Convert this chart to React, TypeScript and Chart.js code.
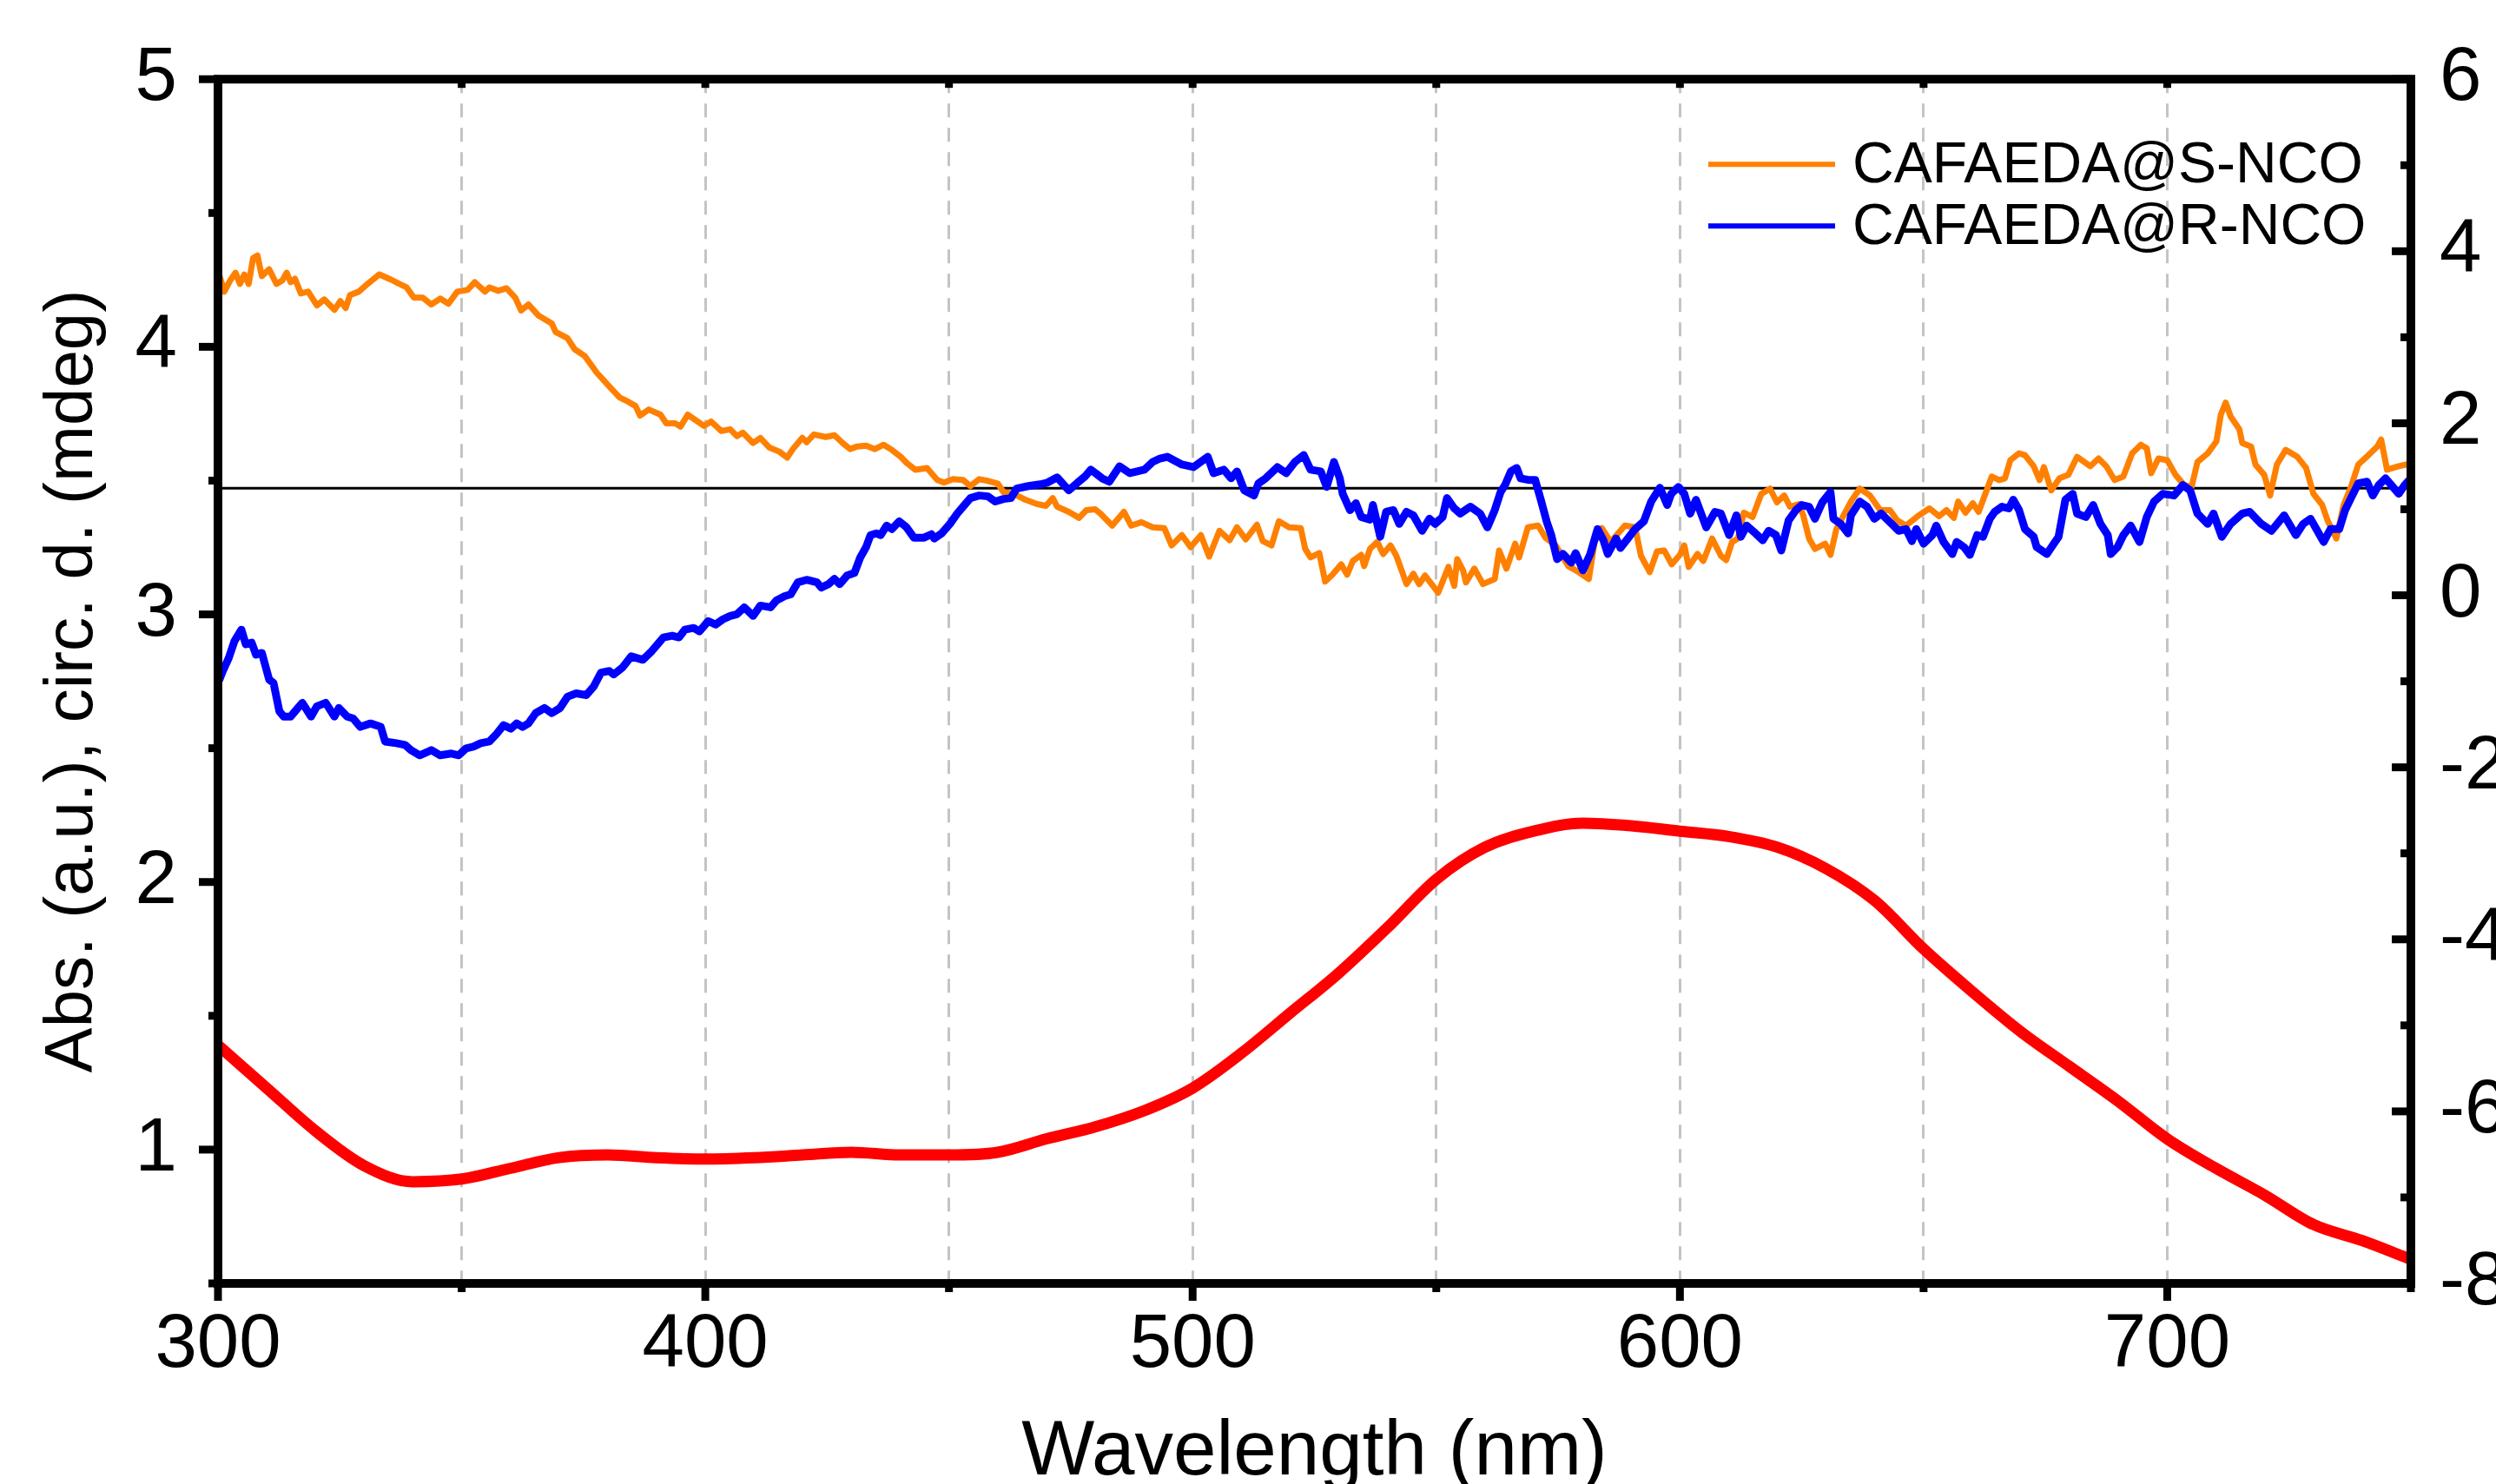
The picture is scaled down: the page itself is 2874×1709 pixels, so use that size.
import React, { useEffect, useRef } from 'react';
import { Chart, registerables } from 'chart.js';

Chart.register(...registerables);

const FONT = '"Liberation Sans", Arimo, Arial, Helvetica, sans-serif';
const ORANGE = '#FF8000';
const BLUE = '#0000FF';
const RED = '#FF0000';

// x axis range (nm) and y ranges
const X_MIN = 300;
const X_MAX = 750;
const Y_MIN = 0.5;
const Y_MAX = 5;
const Y2_MIN = -8;
const Y2_MAX = 6;

const xTitle = 'Wavelength (nm)';
const yTitle = 'Abs. (a.u.), circ. d. (mdeg)';
const legendLabels = ['CAFAEDA@S-NCO', 'CAFAEDA@R-NCO'];

// Absorbance (left axis)
const absNm = [300, 310, 320, 330, 340, 350, 360, 370, 380, 390, 400, 410, 420, 430, 440, 450, 460, 470, 480, 490, 500, 510, 520, 530, 540, 550, 560, 570, 580, 590, 600, 610, 620, 630, 640, 650, 660, 670, 680, 690, 700, 710, 720, 730, 740, 750];
const absVal = [1.39, 1.23, 1.07, 0.94, 0.88, 0.89, 0.93, 0.97, 0.98, 0.97, 0.965, 0.97, 0.98, 0.99, 0.98, 0.98, 0.99, 1.04, 1.085, 1.145, 1.23, 1.36, 1.51, 1.66, 1.83, 2.01, 2.13, 2.19, 2.22, 2.21, 2.19, 2.17, 2.13, 2.05, 1.93, 1.75, 1.59, 1.44, 1.31, 1.18, 1.04, 0.93, 0.83, 0.72, 0.66, 0.59];

// CD of CAFAEDA@S-NCO (right axis)
const sNcoNm = [300.4, 301.3, 302.5, 303.6, 304.5, 305.4, 306.3, 307.2, 308.1, 309.0, 310.5, 312.0, 313.2, 314.1, 314.9, 315.8, 317.0, 318.5, 320.3, 321.8, 323.9, 325.1, 326.2, 327.1, 328.9, 330.7, 333.1, 335.5, 337.2, 338.7, 340.2, 342.0, 343.8, 345.6, 347.3, 349.1, 351.2, 352.7, 354.8, 355.7, 357.5, 359.2, 361.0, 362.2, 363.7, 365.8, 368.5, 369.3, 371.7, 373.2, 375.3, 377.7, 380.6, 382.4, 384.2, 385.7, 386.6, 388.4, 390.8, 392.0, 393.8, 394.9, 396.4, 397.9, 399.7, 401.2, 403.3, 405.1, 406.5, 407.7, 409.8, 411.3, 413.1, 415.2, 416.8, 418.1, 419.9, 420.8, 422.3, 424.7, 426.5, 428.2, 429.7, 431.2, 433.0, 434.8, 436.6, 438.3, 440.1, 441.3, 443.1, 445.5, 447.6, 449.0, 450.8, 452.9, 454.4, 456.2, 458.0, 460.0, 461.2, 463.3, 465.7, 468.1, 469.9, 471.3, 472.2, 474.6, 476.7, 478.2, 480.0, 481.1, 483.5, 485.9, 487.4, 489.5, 491.8, 494.2, 495.7, 497.8, 499.6, 501.7, 503.4, 505.5, 507.6, 509.1, 510.9, 513.2, 514.4, 516.2, 517.7, 519.8, 522.2, 523.1, 524.2, 526.0, 527.2, 528.7, 530.5, 531.7, 532.9, 534.6, 535.2, 536.4, 537.9, 539.1, 540.6, 541.8, 543.9, 545.3, 546.5, 547.7, 550.4, 552.5, 553.7, 554.3, 555.5, 556.1, 557.8, 559.6, 562.0, 562.9, 564.4, 566.2, 567.0, 568.8, 570.9, 572.4, 574.5, 577.1, 579.2, 581.3, 582.5, 584.0, 585.8, 588.7, 590.8, 592.0, 593.8, 595.3, 596.8, 598.3, 600.0, 600.9, 601.8, 603.6, 604.8, 606.6, 608.4, 609.5, 610.7, 611.9, 613.1, 614.9, 616.7, 618.5, 619.9, 621.4, 622.6, 624.4, 625.3, 626.5, 627.7, 629.8, 630.9, 632.1, 633.6, 635.1, 636.9, 639.0, 641.1, 643.1, 644.6, 646.4, 648.8, 651.2, 653.2, 654.7, 656.2, 657.1, 658.6, 660.1, 661.3, 662.8, 664.0, 665.5, 666.7, 667.8, 669.6, 670.8, 672.6, 673.8, 674.7, 676.2, 677.9, 679.7, 681.5, 684.2, 685.9, 687.5, 689.2, 691.0, 692.8, 694.6, 695.8, 696.7, 698.2, 700.0, 701.7, 703.5, 705.0, 706.2, 708.3, 710.1, 711.0, 712.0, 713.0, 714.8, 715.4, 717.2, 718.1, 719.9, 721.1, 722.5, 724.3, 726.7, 728.5, 730.0, 731.8, 732.9, 734.7, 736.2, 737.7, 739.2, 741.3, 743.1, 743.9, 745.1, 747.5, 749.0, 750.0];
const sNcoCd = [3.70, 3.53, 3.66, 3.75, 3.62, 3.73, 3.62, 3.92, 3.95, 3.71, 3.79, 3.62, 3.66, 3.75, 3.64, 3.68, 3.51, 3.53, 3.37, 3.44, 3.32, 3.42, 3.34, 3.49, 3.53, 3.62, 3.73, 3.67, 3.62, 3.58, 3.46, 3.46, 3.38, 3.45, 3.39, 3.53, 3.55, 3.64, 3.53, 3.58, 3.54, 3.57, 3.46, 3.31, 3.38, 3.25, 3.16, 3.06, 2.99, 2.86, 2.78, 2.59, 2.41, 2.30, 2.25, 2.20, 2.09, 2.16, 2.10, 2.00, 2.00, 1.96, 2.10, 2.04, 1.97, 2.02, 1.91, 1.93, 1.85, 1.89, 1.77, 1.83, 1.72, 1.67, 1.60, 1.71, 1.83, 1.78, 1.87, 1.84, 1.86, 1.77, 1.70, 1.73, 1.74, 1.70, 1.75, 1.69, 1.61, 1.54, 1.46, 1.48, 1.34, 1.31, 1.35, 1.34, 1.27, 1.35, 1.33, 1.30, 1.20, 1.18, 1.11, 1.06, 1.04, 1.13, 1.03, 0.97, 0.90, 0.99, 1.00, 0.95, 0.81, 0.97, 0.81, 0.85, 0.79, 0.78, 0.58, 0.70, 0.56, 0.70, 0.45, 0.75, 0.64, 0.79, 0.65, 0.82, 0.63, 0.58, 0.86, 0.79, 0.78, 0.54, 0.44, 0.49, 0.16, 0.24, 0.36, 0.24, 0.40, 0.47, 0.34, 0.54, 0.62, 0.48, 0.58, 0.46, 0.13, 0.25, 0.13, 0.23, 0.03, 0.33, 0.11, 0.42, 0.29, 0.15, 0.31, 0.13, 0.19, 0.52, 0.31, 0.60, 0.44, 0.79, 0.81, 0.67, 0.58, 0.34, 0.27, 0.19, 0.62, 0.78, 0.62, 0.81, 0.79, 0.46, 0.27, 0.51, 0.52, 0.36, 0.47, 0.58, 0.33, 0.48, 0.40, 0.66, 0.46, 0.41, 0.62, 0.66, 0.96, 0.91, 1.18, 1.24, 1.08, 1.16, 1.03, 1.06, 0.93, 0.66, 0.54, 0.60, 0.47, 0.77, 0.93, 1.09, 1.24, 1.16, 0.99, 0.99, 0.87, 0.81, 0.92, 1.01, 0.92, 0.99, 0.90, 1.09, 0.96, 1.07, 0.97, 1.20, 1.38, 1.34, 1.36, 1.57, 1.65, 1.63, 1.50, 1.34, 1.49, 1.22, 1.36, 1.40, 1.61, 1.50, 1.59, 1.50, 1.34, 1.38, 1.65, 1.75, 1.71, 1.42, 1.59, 1.57, 1.40, 1.28, 1.26, 1.55, 1.65, 1.79, 2.10, 2.24, 2.08, 1.93, 1.77, 1.73, 1.52, 1.40, 1.16, 1.52, 1.69, 1.61, 1.48, 1.18, 1.05, 0.87, 0.66, 1.05, 1.26, 1.52, 1.63, 1.73, 1.81, 1.46, 1.50, 1.52, 1.50];

// CD of CAFAEDA@R-NCO (right axis)
const rNcoNm = [300.3, 301.0, 302.2, 303.4, 304.8, 305.7, 306.9, 307.8, 309.0, 310.5, 311.4, 312.6, 313.5, 314.9, 315.8, 317.3, 319.1, 320.3, 322.1, 323.9, 324.8, 326.5, 327.7, 329.2, 331.3, 333.4, 334.3, 336.6, 338.4, 339.6, 341.4, 343.8, 345.6, 347.9, 349.4, 350.9, 352.4, 353.9, 355.7, 357.2, 358.6, 360.1, 361.3, 362.5, 363.7, 365.2, 367.0, 368.5, 370.2, 371.7, 373.5, 375.6, 377.1, 378.6, 380.3, 381.2, 383.0, 384.8, 387.2, 389.0, 390.2, 391.4, 393.2, 394.6, 395.8, 397.6, 398.8, 400.6, 402.1, 403.6, 405.1, 406.5, 408.0, 409.8, 411.3, 413.4, 414.6, 416.3, 417.5, 419.0, 420.8, 422.9, 423.8, 425.3, 426.5, 427.6, 429.1, 430.6, 431.8, 433.0, 433.9, 435.1, 436.0, 437.2, 438.3, 439.8, 441.3, 442.8, 444.9, 446.4, 447.0, 448.5, 450.2, 451.7, 453.2, 454.4, 456.2, 458.0, 459.5, 461.2, 462.7, 463.9, 466.3, 468.7, 470.2, 472.2, 474.6, 476.4, 477.9, 479.1, 480.3, 481.4, 482.9, 485.0, 487.1, 490.1, 491.8, 493.3, 494.8, 497.8, 500.2, 503.1, 504.3, 506.4, 507.9, 509.1, 510.6, 512.6, 513.5, 515.0, 517.4, 519.2, 521.0, 522.8, 524.2, 526.3, 527.5, 529.0, 530.2, 530.8, 532.3, 533.5, 534.6, 536.4, 537.0, 538.5, 539.7, 541.2, 542.4, 543.9, 545.3, 547.1, 548.6, 549.8, 551.3, 552.2, 553.7, 554.9, 557.0, 559.0, 560.5, 562.0, 563.2, 564.1, 565.3, 566.5, 567.3, 569.1, 570.3, 571.5, 572.7, 573.6, 574.8, 576.0, 577.7, 578.6, 580.1, 581.6, 583.1, 584.3, 585.2, 586.9, 587.8, 589.3, 590.8, 592.6, 594.1, 595.9, 597.4, 598.2, 599.7, 600.9, 602.1, 603.3, 605.4, 607.2, 608.4, 610.1, 611.6, 612.5, 613.7, 615.5, 617.0, 618.2, 619.7, 620.8, 622.3, 623.8, 625.0, 626.5, 627.7, 629.2, 630.9, 631.5, 633.0, 634.5, 635.1, 636.9, 638.4, 639.9, 641.3, 643.1, 644.9, 646.4, 647.6, 648.5, 650.0, 651.8, 652.6, 654.1, 655.9, 656.8, 658.3, 659.5, 661.0, 662.2, 663.6, 664.6, 666.1, 667.5, 668.4, 669.6, 670.8, 672.6, 673.2, 675.3, 676.5, 677.7, 679.1, 680.6, 681.5, 683.3, 684.8, 686.3, 687.8, 688.4, 689.8, 691.0, 692.5, 694.3, 695.8, 697.3, 699.1, 701.4, 703.2, 704.7, 706.2, 708.3, 709.5, 711.2, 713.0, 715.4, 716.9, 719.3, 721.4, 724.0, 726.4, 727.9, 729.4, 730.6, 732.1, 733.5, 735.3, 736.5, 737.7, 739.2, 741.0, 742.2, 743.4, 744.8, 746.0, 747.5, 748.7, 750.0];
const rNcoCd = [-0.98, -0.88, -0.73, -0.53, -0.40, -0.57, -0.55, -0.69, -0.67, -0.98, -1.02, -1.35, -1.41, -1.41, -1.35, -1.25, -1.41, -1.29, -1.25, -1.41, -1.31, -1.41, -1.43, -1.53, -1.49, -1.53, -1.70, -1.72, -1.74, -1.80, -1.86, -1.80, -1.86, -1.84, -1.86, -1.78, -1.76, -1.72, -1.70, -1.61, -1.51, -1.55, -1.49, -1.53, -1.49, -1.37, -1.31, -1.37, -1.31, -1.18, -1.14, -1.16, -1.06, -0.90, -0.88, -0.92, -0.84, -0.71, -0.75, -0.65, -0.57, -0.49, -0.47, -0.49, -0.40, -0.38, -0.42, -0.30, -0.34, -0.28, -0.24, -0.22, -0.14, -0.24, -0.12, -0.14, -0.06, -0.01, 0.01, 0.15, 0.18, 0.15, 0.09, 0.13, 0.19, 0.13, 0.23, 0.26, 0.44, 0.56, 0.70, 0.72, 0.70, 0.81, 0.77, 0.86, 0.79, 0.67, 0.67, 0.71, 0.66, 0.72, 0.83, 0.95, 1.05, 1.13, 1.16, 1.15, 1.09, 1.12, 1.13, 1.24, 1.27, 1.29, 1.31, 1.37, 1.22, 1.31, 1.38, 1.46, 1.41, 1.36, 1.32, 1.50, 1.42, 1.46, 1.55, 1.59, 1.61, 1.52, 1.49, 1.61, 1.42, 1.46, 1.36, 1.44, 1.22, 1.16, 1.30, 1.36, 1.49, 1.42, 1.55, 1.63, 1.46, 1.44, 1.26, 1.55, 1.36, 1.18, 0.99, 1.07, 0.91, 0.88, 1.05, 0.68, 0.97, 0.99, 0.83, 0.97, 0.93, 0.75, 0.89, 0.83, 0.91, 1.13, 1.01, 0.95, 1.03, 0.95, 0.79, 0.99, 1.20, 1.28, 1.44, 1.48, 1.36, 1.34, 1.34, 1.10, 0.85, 0.70, 0.42, 0.48, 0.38, 0.49, 0.29, 0.48, 0.77, 0.64, 0.48, 0.66, 0.55, 0.66, 0.77, 0.86, 1.09, 1.25, 1.05, 1.18, 1.26, 1.18, 0.95, 1.11, 0.79, 0.97, 0.95, 0.70, 0.93, 0.68, 0.81, 0.72, 0.64, 0.75, 0.70, 0.52, 0.87, 0.99, 1.05, 1.03, 0.89, 1.08, 1.20, 0.89, 0.83, 0.72, 0.93, 1.09, 1.03, 0.89, 0.95, 0.85, 0.75, 0.77, 0.63, 0.77, 0.60, 0.70, 0.81, 0.62, 0.48, 0.62, 0.56, 0.47, 0.70, 0.68, 0.89, 0.97, 1.03, 1.01, 1.11, 0.99, 0.77, 0.68, 0.56, 0.48, 0.58, 0.68, 1.11, 1.18, 0.95, 0.91, 1.05, 0.83, 0.70, 0.48, 0.56, 0.70, 0.81, 0.62, 0.91, 1.09, 1.18, 1.16, 1.28, 1.22, 0.95, 0.83, 0.95, 0.68, 0.83, 0.95, 0.97, 0.83, 0.75, 0.93, 0.70, 0.83, 0.89, 0.77, 0.62, 0.77, 0.77, 0.99, 1.13, 1.30, 1.32, 1.16, 1.28, 1.36, 1.28, 1.18, 1.28, 1.36];

// horizontal reference line (right axis)
const baselineNm = [300, 750];
const baselineCd = [1.245, 1.245];

const toPts = (xs: number[], ys: number[]) => xs.map((x, i) => ({ x, y: ys[i] }));

const framePlugin = {
  id: 'frameTicks',
  afterDatasetsDraw(chart: any) {
    const { ctx, chartArea: a, scales } = chart;
    const line = (x1: number, y1: number, x2: number, y2: number) => {
      ctx.beginPath();
      ctx.moveTo(x1, y1);
      ctx.lineTo(x2, y2);
      ctx.stroke();
    };
    ctx.save();
    ctx.strokeStyle = '#000';
    ctx.lineCap = 'butt';
    ctx.lineWidth = 9;
    for (let v = X_MIN; v <= X_MAX; v += 50) {
      const px = scales.x.getPixelForValue(v);
      const major = v % 100 === 0;
      line(px, a.bottom, px, a.bottom + (major ? 20 : 10));
      line(px, a.top, px, a.top + 10);
    }
    for (let v = Y_MIN; v <= Y_MAX + 1e-9; v += 0.5) {
      const py = scales.y.getPixelForValue(v);
      const major = Math.abs(v - Math.round(v)) < 1e-6;
      line(a.left, py, a.left - (major ? 22 : 11), py);
    }
    for (let v = Y2_MIN; v <= Y2_MAX; v += 1) {
      const py = scales.y2.getPixelForValue(v);
      const major = v % 2 === 0;
      line(a.right, py, a.right - (major ? 22 : 12), py);
    }
    ctx.lineWidth = 10;
    ctx.lineJoin = 'miter';
    ctx.strokeRect(a.left, a.top, a.right - a.left, a.bottom - a.top);
    ctx.restore();
  },
};

const legendPlugin = {
  id: 'insideLegend',
  afterDraw(chart: any) {
    const { ctx, chartArea: a } = chart;
    const items = [
      { label: legendLabels[0], color: ORANGE },
      { label: legendLabels[1], color: BLUE },
    ];
    ctx.save();
    ctx.font = `66px ${FONT}`;
    ctx.textBaseline = 'middle';
    ctx.textAlign = 'left';
    items.forEach((it, i) => {
      const y = a.top + 98 + i * 71;
      ctx.strokeStyle = it.color;
      ctx.lineWidth = 6;
      ctx.beginPath();
      ctx.moveTo(a.right - 809, y);
      ctx.lineTo(a.right - 663, y);
      ctx.stroke();
      ctx.fillStyle = '#000';
      ctx.fillText(it.label, a.right - 643, y + 3);
    });
    ctx.restore();
  },
};

export default function App() {
  const canvasRef = useRef<HTMLCanvasElement | null>(null);

  useEffect(() => {
    const canvas = canvasRef.current;
    if (!canvas) return;
    const tickFont = { family: FONT, size: 87 };
    const chart = new Chart(canvas, {
      type: 'line',
      data: {
        datasets: [
          {
            label: legendLabels[1],
            data: toPts(rNcoNm, rNcoCd),
            yAxisID: 'y2',
            borderColor: BLUE,
            backgroundColor: BLUE,
            borderWidth: 9,
            pointRadius: 0,
            tension: 0,
            borderJoinStyle: 'round',
            borderCapStyle: 'round',
          },
          {
            label: legendLabels[0],
            data: toPts(sNcoNm, sNcoCd),
            yAxisID: 'y2',
            borderColor: ORANGE,
            backgroundColor: ORANGE,
            borderWidth: 7,
            pointRadius: 0,
            tension: 0,
            borderJoinStyle: 'round',
            borderCapStyle: 'round',
          },
          {
            label: 'reference',
            data: toPts(baselineNm, baselineCd),
            yAxisID: 'y2',
            borderColor: '#000',
            borderWidth: 3,
            pointRadius: 0,
          },
          {
            label: 'Absorbance',
            data: toPts(absNm, absVal),
            yAxisID: 'y',
            borderColor: RED,
            backgroundColor: RED,
            borderWidth: 13,
            pointRadius: 0,
            cubicInterpolationMode: 'monotone',
          },
        ],
      },
      options: {
        animation: false,
        responsive: false,
        devicePixelRatio: 1,
        layout: { padding: { top: 84, left: 0, right: 0, bottom: 0 } },
        plugins: {
          legend: { display: false },
          tooltip: { enabled: false },
        },
        scales: {
          x: {
            type: 'linear',
            position: 'bottom',
            min: X_MIN,
            max: X_MAX,
            afterFit: (s: any) => {
              s.height = 231;
            },
            grid: { display: true, drawTicks: false, color: '#c4c4c4', lineWidth: 3 },
            border: { display: false, dash: [16, 12] },
            ticks: {
              stepSize: 50,
              autoSkip: false,
              maxRotation: 0,
              padding: 20,
              color: '#000',
              font: tickFont,
              callback: (v: any) => (Number(v) % 100 === 0 ? String(v) : ''),
            },
            title: {
              display: true,
              text: xTitle,
              color: '#000',
              font: { family: FONT, size: 89, lineHeight: 0.8 },
              padding: { top: 0, bottom: 0 },
            },
          },
          y: {
            type: 'linear',
            position: 'left',
            min: Y_MIN,
            max: Y_MAX,
            afterFit: (s: any) => {
              s.width = 251;
            },
            grid: { display: false },
            border: { display: false },
            ticks: {
              stepSize: 0.5,
              padding: 39,
              color: '#000',
              font: tickFont,
              callback: (v: any) => (Number.isInteger(Number(v)) ? String(v) : ''),
            },
            title: {
              display: true,
              text: yTitle,
              color: '#000',
              font: { family: FONT, size: 78, lineHeight: 1.2 },
              padding: { top: 38, bottom: 0 },
            },
          },
          y2: {
            type: 'linear',
            position: 'right',
            min: Y2_MIN,
            max: Y2_MAX,
            afterFit: (s: any) => {
              s.width = 98;
            },
            grid: { display: false },
            border: { display: false },
            ticks: {
              stepSize: 1,
              padding: 25,
              color: '#000',
              font: tickFont,
              callback: (v: any) => (Number(v) % 2 === 0 ? String(v) : ''),
            },
          },
        },
      },
      plugins: [framePlugin, legendPlugin],
    } as any);
    return () => chart.destroy();
  }, []);

  return (
    <canvas
      ref={canvasRef}
      width={2874}
      height={1709}
      style={{ position: 'fixed', left: 0, top: 0, display: 'block', background: '#fff' }}
    />
  );
}
